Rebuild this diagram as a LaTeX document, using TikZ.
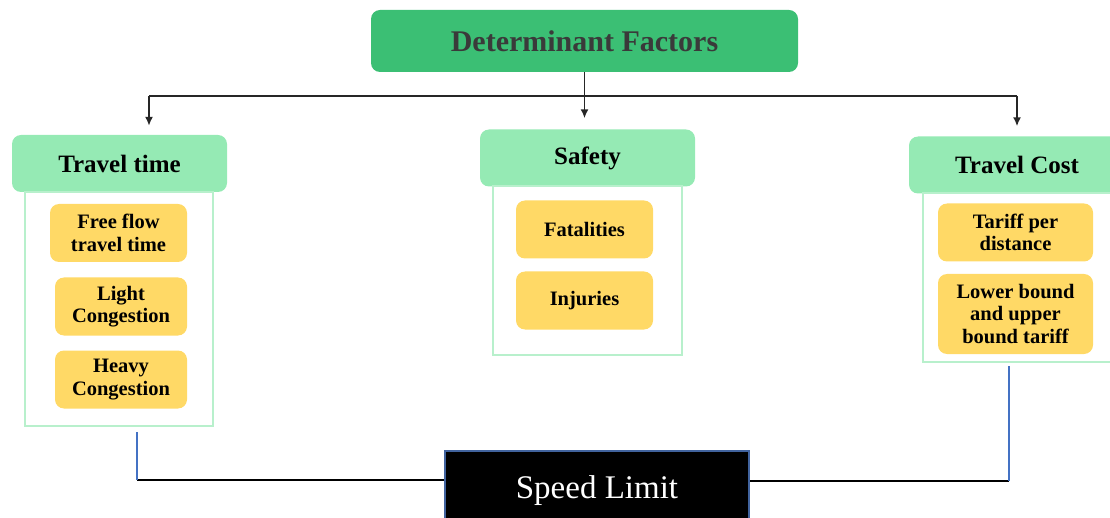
\documentclass[tikz,border=0pt]{standalone}
\usepackage{fontspec}
\setmainfont{Liberation Serif}
\usetikzlibrary{arrows.meta,calc}
\definecolor{titlegreen}{HTML}{3BBF74}
\definecolor{headgreen}{HTML}{95EAB4}
\definecolor{framegreen}{HTML}{B8F0CC}
\definecolor{itemgold}{HTML}{FFD966}
\definecolor{linkblue}{HTML}{4472C4}
\definecolor{edgeblue}{HTML}{41639E}
\definecolor{titleink}{HTML}{3A3A3A}
\tikzset{
  titlebox/.style={rectangle, rounded corners=9pt, fill=titlegreen, draw=none,
    text=titleink, font=\fontsize{30}{33}\selectfont\bfseries,
    minimum width=427pt, minimum height=62pt, inner sep=0pt},
  headbox/.style={rectangle, rounded corners=9pt, fill=headgreen, draw=none,
    text=black, font=\fontsize{25}{28}\selectfont\bfseries,
    minimum width=215pt, minimum height=57pt, inner sep=0pt},
  framebox/.style={rectangle, draw=framegreen, line width=1.6pt, fill=none,
    inner sep=0pt},
  itembox/.style={rectangle, rounded corners=9pt, fill=itemgold, draw=none,
    text=black, align=center, font=\fontsize{20.5}{22.5}\selectfont\bfseries,
    minimum height=58pt, inner sep=0pt},
  resultbox/.style={rectangle, fill=black, draw=edgeblue, line width=2pt,
    text=white, font=\fontsize{33}{36}\selectfont,
    minimum width=304pt, minimum height=80pt, inner sep=0pt},
  busline/.style={draw=black!85, line width=1.7pt},
  arr/.style={busline, -{Latex[length=9pt,width=8pt]}},
  bluelink/.style={draw=linkblue, line width=2pt},
  blacklink/.style={draw=black, line width=2.6pt},
}
\begin{document}
\begin{tikzpicture}[x=1pt,y=-1pt]
\useasboundingbox (0,0) rectangle (1110,518);
\clip (0,0) rectangle (1110,518);

% top node
\node[titlebox] (df) at (584.5,41) {Determinant Factors};

% column headers
\node[headbox] (tth) at (119.5,163.5) {Travel time};
\node[headbox] (sfh) at (587.5,158) {Safety};
\node[headbox, minimum width=216pt] (tch) at (1017,165) {Travel Cost};

% column frames
\node[framebox, minimum width=188pt, minimum height=234pt] (ttf) at (119,309) {};
\node[framebox, minimum width=189pt, minimum height=169pt] (sff) at (587.5,270.5) {};
\node[framebox, minimum width=190pt, minimum height=169pt] (tcf) at (1018,277.5) {};

% travel time items
\node[itembox, minimum width=137pt] (ff) at (118.5,233) {Free flow\\travel time};
\node[itembox, minimum width=132pt] (lc) at (121,306.5) {Light\\Congestion};
\node[itembox, minimum width=132pt] (hc) at (121,379.5) {Heavy\\Congestion};

% safety items
\node[itembox, minimum width=137pt] (fa) at (584.5,229.5) {Fatalities};
\node[itembox, minimum width=137pt] (in) at (584.5,300.5) {Injuries};

% travel cost items
\node[itembox, minimum width=155pt] (tp) at (1015.5,232.5) {Tariff per\\distance};
\node[itembox, minimum width=155pt, minimum height=80pt] (lb) at (1015.5,314) {Lower bound\\and upper\\bound tariff};

% result node
\node[resultbox] (sl) at (597,491) {Speed Limit};

% distribution bus from the top node
\coordinate (busL) at (149,96);
\coordinate (busR) at (1017,96);
\draw[busline] (busL) -- (busR);
\draw[arr] (df.south) -- ($(df.south |- sfh.north)+(0,-11)$);
\draw[arr] (busL) -- ($(busL |- tth.north)+(0,-9)$);
\draw[arr] (busR) -- ($(busR |- tch.north)+(0,-10)$);

% links into the result node
\coordinate (cl) at (137,432);
\coordinate (jl) at (137,480);
\coordinate (cr) at (1009,366);
\coordinate (jr) at (1009,481);
\draw[blacklink] (jl) -- (jl -| sl.west);
\draw[blacklink] (jr) -- (jr -| sl.east);
\draw[bluelink] (cl) -- (jl);
\draw[bluelink] (cr) -- (jr);
\end{tikzpicture}
\end{document}
